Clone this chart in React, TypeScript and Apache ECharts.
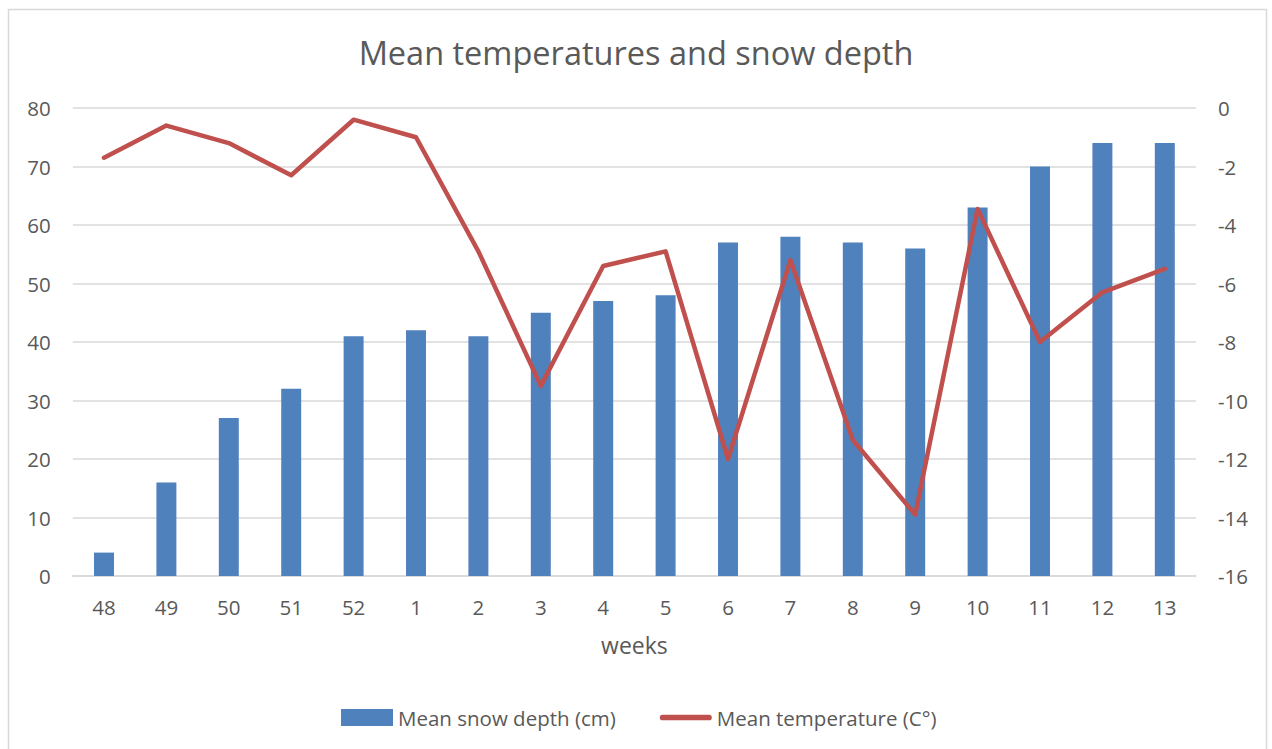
import React, { useEffect, useRef } from "react";
import * as echarts from "echarts";

const weeks = ["48", "49", "50", "51", "52", "1", "2", "3", "4", "5", "6", "7", "8", "9", "10", "11", "12", "13"];
const snowDepth = [4, 16, 27, 32, 41, 42, 41, 45, 47, 48, 57, 58, 57, 56, 63, 70, 74, 74];
const meanTemp = [-1.7, -0.6, -1.2, -2.3, -0.4, -1.0, -4.9, -9.5, -5.4, -4.9, -12.0, -5.2, -11.35, -13.9, -3.45, -8.0, -6.3, -5.5];

const FONT = "'Open Sans', 'Noto Sans', sans-serif";
const TEXT = "#595959";
const LINE_ICON = "path://M3,0 L52,0 A3,3 0 0 1 52,6 L3,6 A3,3 0 0 1 3,0 Z";

export default function App() {
  const ref = useRef<HTMLDivElement>(null);
  useEffect(() => {
    if (!ref.current) return;
    const chart = echarts.init(ref.current, null, { renderer: "svg" });
    chart.setOption({
      animation: false,
      backgroundColor: "#ffffff",
      textStyle: { fontFamily: FONT, color: TEXT },
      graphic: [
        {
          type: "rect",
          shape: { x: 8.5, y: 9.5, width: 1258, height: 760 },
          style: { fill: "none", stroke: "#d9d9d9", lineWidth: 1.5 },
          silent: true,
          z: -10,
        },
      ],
      title: {
        text: "Mean temperatures and snow depth",
        left: "center",
        top: 31,
        textStyle: { fontFamily: FONT, fontSize: 32.5, fontWeight: "normal", color: TEXT },
      },
      grid: { left: 72.8, right: 76, top: 108, bottom: 173, containLabel: false },
      legend: {
        top: 702,
        left: 336,
        itemGap: 44,
        itemWidth: 52,
        itemHeight: 17,
        textStyle: { fontFamily: FONT, fontSize: 20.5, color: TEXT },
        data: [
          { name: "Mean snow depth (cm)", icon: "rect" },
          { name: "Mean temperature (C°)", icon: LINE_ICON },
        ],
      },
      xAxis: {
        type: "category",
        data: weeks,
        name: "weeks",
        nameLocation: "middle",
        nameGap: 57,
        nameTextStyle: { fontFamily: FONT, fontSize: 23, color: TEXT },
        axisTick: { show: false },
        axisLine: { lineStyle: { color: "#d9d9d9", width: 1.5 } },
        axisLabel: { fontFamily: FONT, fontSize: 20.5, color: TEXT, margin: 20 },
      },
      yAxis: [
        {
          type: "value",
          min: 0,
          max: 80,
          interval: 10,
          axisLine: { show: false },
          axisTick: { show: false },
          splitLine: { lineStyle: { color: "#d9d9d9", width: 1.5 } },
          axisLabel: { fontFamily: FONT, fontSize: 20.5, color: TEXT, margin: 22 },
        },
        {
          type: "value",
          min: -16,
          max: 0,
          interval: 2,
          axisLine: { show: false },
          axisTick: { show: false },
          splitLine: { show: false },
          axisLabel: { fontFamily: FONT, fontSize: 20.5, color: TEXT, margin: 22 },
        },
      ],
      series: [
        {
          name: "Mean snow depth (cm)",
          type: "bar",
          data: snowDepth,
          barWidth: "32%",
          itemStyle: { color: "#4f81bd" },
          yAxisIndex: 0,
        },
        {
          name: "Mean temperature (C°)",
          type: "line",
          data: meanTemp,
          yAxisIndex: 1,
          symbol: "none",
          lineStyle: { color: "#c0504d", width: 4.5, cap: "round", join: "round" },
          itemStyle: { color: "#c0504d" },
        },
      ],
    });
    return () => chart.dispose();
  }, []);
  return (
    <div
      ref={ref}
      style={{ position: "absolute", left: 0, top: 0, width: 1272, height: 749 }}
    />
  );
}
